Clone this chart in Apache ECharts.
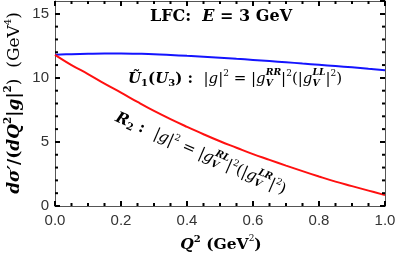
<!DOCTYPE html>
<html><head><meta charset="utf-8">
<script src="https://cdn.jsdelivr.net/npm/echarts@6/dist/echarts.min.js"></script>
<style>html,body{margin:0;padding:0;background:#fff}#c{width:399px;height:261px}</style>
</head><body><div id="c"></div>
<script>
// ---- data ----
const q2Values = [0, 0.05, 0.1, 0.15, 0.2, 0.25, 0.3, 0.35, 0.4, 0.45, 0.5, 0.55, 0.6, 0.65, 0.7, 0.75, 0.8, 0.85, 0.9, 0.95, 1.0];
const blueU1 = [11.8, 11.85, 11.88, 11.9, 11.9, 11.88, 11.85, 11.79, 11.72, 11.65, 11.58, 11.49, 11.4, 11.31, 11.22, 11.12, 11.02, 10.92, 10.82, 10.71, 10.6];
const redR2 = [11.8, 11.0, 10.3, 9.55, 8.85, 8.12, 7.42, 6.78, 6.18, 5.6, 5.05, 4.55, 4.05, 3.6, 3.15, 2.72, 2.3, 1.9, 1.55, 1.2, 0.85];
const xTicks = [0.0, 0.2, 0.4, 0.6, 0.8, 1.0];
const xMinorTicks = [0.05, 0.1, 0.15, 0.25, 0.3, 0.35, 0.45, 0.5, 0.55, 0.65, 0.7, 0.75, 0.85, 0.9, 0.95];
const yTicks = [0, 5, 10, 15];
const yMinorTicks = [1, 2, 3, 4, 6, 7, 8, 9, 11, 12, 13, 14];
const X_MIN = 0, X_MAX = 1, Y_MIN = 0, Y_MAX = 16;

const SERIF = '"DejaVu Serif","Liberation Serif",serif';
const cv = document.createElement('canvas').getContext('2d');
function fontStr(st, size){
  return (st.indexOf('i')>=0?'italic ':'') + (st.indexOf('b')>=0?'bold ':'') + size + 'px ' + SERIF;
}
function measure(t, st, size){ cv.font = fontStr(st,size); return cv.measureText(t).width; }
function layout(tokens, base){
  const kids = []; let x = 0;
  tokens.forEach(tk => {
    if (tk.stack){
      const ss = base*0.62;
      const w1 = measure(tk.stack[0], 'bi', ss), w2 = measure(tk.stack[1], 'bi', ss);
      kids.push(mk(tk.stack[0],'bi',ss,x,-base*0.42));
      kids.push(mk(tk.stack[1],'bi',ss,x,base*0.3));
      x += Math.max(w1,w2);
    } else {
      const s = tk.s || base;
      kids.push(mk(tk.t, tk.st||'', s, x, tk.dy||0));
      x += measure(tk.t, tk.st||'', s);
    }
  });
  return {kids, width:x};
}
function mk(t, st, s, x, y){
  return {type:'text', x:x, y:y, style:{text:t, font:fontStr(st,s), fill:'#000', verticalAlign:'middle', align:'left'}};
}

const blueTokens = [
  {t:'Ũ', st:'bi'}, {t:'1', st:'b', s:10, dy:4}, {t:'(', st:'b'}, {t:'U', st:'bi'}, {t:'3', st:'b', s:10, dy:4}, {t:')', st:'b'},
  {t:' :  ', st:'b'}, {t:'|', st:''}, {t:'g', st:'i'}, {t:'|', st:''}, {t:'2', st:'', s:9, dy:-5},
  {t:' = |', st:''}, {t:'g', st:'i'}, {stack:['RR','V']}, {t:'|', st:''}, {t:'2', st:'', s:9, dy:-5},
  {t:'(|', st:''}, {t:'g', st:'i'}, {stack:['LL','V']}, {t:'|', st:''}, {t:'2', st:'', s:9, dy:-5}, {t:')', st:''}
];
const redTokens = [
  {t:'R', st:'bi'}, {t:'2', st:'b', s:10, dy:4}, {t:' :  ', st:'b'}, {t:'|', st:''}, {t:'g', st:'i'}, {t:'|', st:''}, {t:'2', st:'', s:9, dy:-5},
  {t:' = |', st:''}, {t:'g', st:'i'}, {stack:['RL','V']}, {t:'|', st:''}, {t:'2', st:'', s:9, dy:-5},
  {t:'(|', st:''}, {t:'g', st:'i'}, {stack:['LR','V']}, {t:'|', st:''}, {t:'2', st:'', s:9, dy:-5}, {t:')', st:''}
];
const lfcTokens = [{t:'LFC:  ', st:'b'}, {t:'E', st:'bi'}, {t:' = 3 GeV', st:'b'}];
const xTitleTokens = [{t:'Q', st:'bi'}, {t:'2', st:'b', s:10, dy:-6}, {t:' (GeV', st:'b'}, {t:'2', st:'', s:9, dy:-6}, {t:')', st:'b'}];
const yTitleTokens = [{t:'d', st:'bi'}, {t:'σ′', st:'bi'}, {t:'/(', st:'b'}, {t:'dQ', st:'bi'}, {t:'2', st:'b', s:10.5, dy:-7},
  {t:'|', st:'b'}, {t:'g', st:'bi'}, {t:'|', st:'b'}, {t:'2', st:'b', s:10.5, dy:-7}, {t:')  (GeV', st:''}, {t:'4', st:'', s:10, dy:-7}, {t:')', st:''}];

const blue = layout(blueTokens, 15);
const red = layout(redTokens, 15.5);
const lfc = layout(lfcTokens, 16);
const xt = layout(xTitleTokens, 15.5);
const yt = layout(yTitleTokens, 17);

const chart = echarts.init(document.getElementById('c'), null, {renderer:'canvas'});
function mkAxis(extra){
  return Object.assign({
    axisLine:{show:true, onZero:false, lineStyle:{color:'#555', width:1}},
    axisTick:{show:true, inside:true, length:5, lineStyle:{color:'#000', width:2}},
    minorTick:{show:false}, splitLine:{show:false}
  }, extra);
}
const labelFont = '"Liberation Sans",Arial,sans-serif';
function tickSeries(data, size, offset){
  return {type:'scatter', data:data, symbol:'rect', symbolSize:size, symbolOffset:offset, clip:false, silent:true,
    itemStyle:{color:'#000', opacity:1}, z:4, animation:false, emphasis:{disabled:true}};
}
chart.setOption({
  animation:false,
  grid:{left:55, right:14, top:1, bottom:55},
  xAxis:[
    mkAxis({type:'value', min:X_MIN, max:X_MAX, interval:0.2, position:'bottom',
      axisLabel:{color:'#333', fontSize:15, fontFamily:labelFont, margin:7,
        formatter:v => { const i = xTicks.findIndex(t => Math.abs(t-v)<1e-9); return i>=0 ? xTicks[i].toFixed(1) : ''; }}}),
    mkAxis({type:'value', min:X_MIN, max:X_MAX, interval:0.2, position:'top', axisLabel:{show:false}})
  ],
  yAxis:[
    mkAxis({type:'value', min:Y_MIN, max:Y_MAX, interval:5, position:'left',
      axisLabel:{color:'#333', fontSize:15, fontFamily:labelFont, margin:6, showMaxLabel:false,
        formatter:v => yTicks.indexOf(v)>=0 ? String(v) : ''}}),
    mkAxis({type:'value', min:Y_MIN, max:Y_MAX, interval:5, position:'right', axisLabel:{show:false}})
  ],
  series:[
    tickSeries(xMinorTicks.map(v => [v, Y_MIN]), [2, 3], [0, -1.5]),
    tickSeries(xMinorTicks.map(v => [v, Y_MAX]), [2, 3], [0, 1.5]),
    tickSeries(yMinorTicks.map(v => [X_MIN, v]), [3, 2], [1.5, 0]),
    tickSeries(yMinorTicks.map(v => [X_MAX, v]), [3, 2], [-1.5, 0]),
    {type:'line', data:q2Values.map((x,i)=>[x, blueU1[i]]), smooth:0.4, symbol:'none', lineStyle:{color:'#1414ff', width:2}, z:3},
    {type:'line', data:q2Values.map((x,i)=>[x, redR2[i]]), smooth:0.4, symbol:'none', lineStyle:{color:'#ff1010', width:2}, z:3}
  ],
  graphic:[
    {type:'group', x:221 - lfc.width/2, y:17, children:lfc.kids},
    {type:'group', x:128, y:79, children:blue.kids},
    {type:'group', x:116, y:117, rotation:-0.41, children:red.kids},
    {type:'group', x:221 - xt.width/2, y:245, children:xt.kids},
    {type:'group', x:15, y:103 + yt.width/2, rotation:Math.PI/2, children:yt.kids}
  ]
});
</script></body></html>
